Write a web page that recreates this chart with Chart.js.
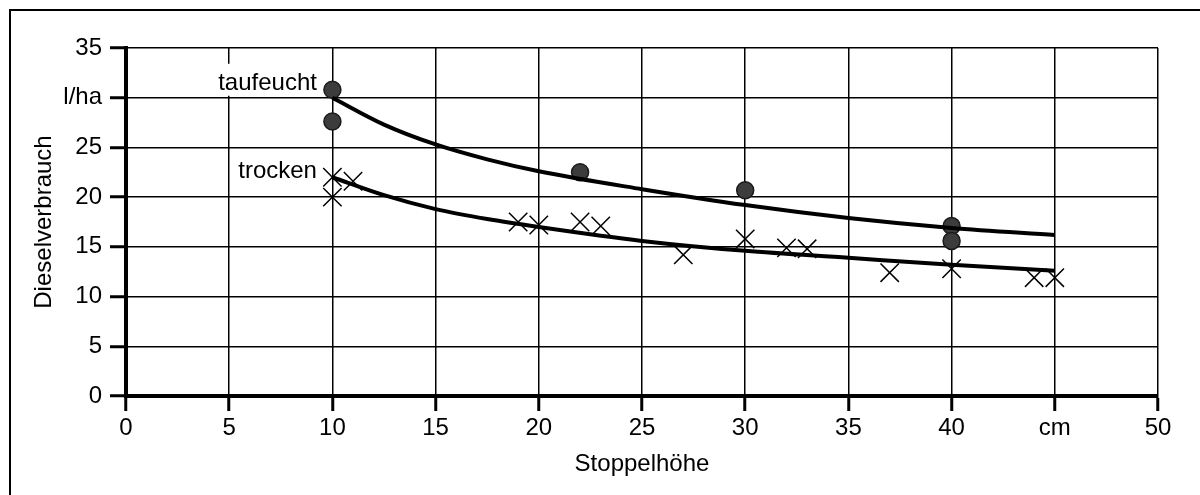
<!DOCTYPE html>
<html>
<head>
<meta charset="utf-8">
<title>Dieselverbrauch</title>
<script src="https://cdn.jsdelivr.net/npm/chart.js@4.4.1/dist/chart.umd.min.js"></script>
<style>
  html, body { margin: 0; padding: 0; background: #fff; }
  #wrap { position: relative; width: 1200px; height: 495px; overflow: hidden; }
  #frame { position: absolute; left: 9px; top: 9px; width: 1200px; height: 500px; border: 2px solid #000; pointer-events: none; }
</style>
</head>
<body>
<div id="wrap">
  <canvas id="myChart"></canvas>
  <div id="frame"></div>
</div>
<script>
// measured points, taufeucht (circles)
var taufeuchtX = [10, 10, 22, 30, 40, 40];
var taufeuchtY = [30.8, 27.6, 22.5, 20.7, 17.1, 15.6];

// measured points, trocken (crosses)
var trockenX = [10, 10, 11, 19, 20, 22, 23, 27, 30, 32, 33, 37, 40, 44, 45];
var trockenY = [22.0, 20.0, 21.6, 17.5, 17.2, 17.5, 17.1, 14.2, 15.8, 14.9, 14.8, 12.4, 12.8, 11.9, 11.9];

// trend curves
var trendX = [10, 12.5, 15, 17.5, 20, 25, 30, 35, 40, 45];
var taufeuchtTrend = [30.0, 27.3, 25.3, 23.8, 22.6, 20.8, 19.2, 17.9, 16.9, 16.2];
var trockenTrend = [22.0, 20.2, 18.8, 17.8, 17.0, 15.6, 14.6, 13.9, 13.2, 12.6];

// tick labels
var xTickLabels = ['0', '5', '10', '15', '20', '25', '30', '35', '40', 'cm', '50'];
var yTickLabels = ['0', '5', '10', '15', '20', '25', 'l/ha', '35'];

function toPoints(xs, ys) {
  return xs.map(function (x, i) { return { x: x, y: ys[i] }; });
}

Chart.defaults.font.family = '"Liberation Sans", Arial, sans-serif';
Chart.defaults.font.size = 24;
Chart.defaults.color = '#000';

// series labels with white box behind them
var seriesLabels = {
  id: 'seriesLabels',
  beforeDatasetsDraw: function (chart) {
    var ctx = chart.ctx;
    var xs = chart.scales.x, ys = chart.scales.y;
    var items = [
      { text: 'taufeucht', x: 9.25, y: 30.8 },
      { text: 'trocken', x: 9.25, y: 21.9 }
    ];
    ctx.save();
    ctx.font = '24px "Liberation Sans", Arial, sans-serif';
    ctx.textAlign = 'right';
    ctx.textBaseline = 'alphabetic';
    items.forEach(function (it) {
      var px = xs.getPixelForValue(it.x);
      var py = ys.getPixelForValue(it.y);
      var w = ctx.measureText(it.text).width;
      ctx.fillStyle = '#fff';
      ctx.fillRect(px - w - 8, py - 26, w + 10, 32);
      ctx.fillStyle = '#000';
      ctx.fillText(it.text, px, py);
    });
    ctx.restore();
  }
};

var chartCanvas = document.getElementById('myChart');

var myChart = new Chart(chartCanvas, {
  type: 'scatter',
  data: {
    datasets: [
      {
        type: 'line',
        label: 'taufeucht Trend',
        data: toPoints(trendX, taufeuchtTrend),
        borderColor: '#000',
        borderWidth: 4,
        pointRadius: 0,
        fill: false,
        cubicInterpolationMode: 'monotone'
      },
      {
        type: 'line',
        label: 'trocken Trend',
        data: toPoints(trendX, trockenTrend),
        borderColor: '#000',
        borderWidth: 4,
        pointRadius: 0,
        fill: false,
        cubicInterpolationMode: 'monotone'
      },
      {
        label: 'taufeucht',
        data: toPoints(taufeuchtX, taufeuchtY),
        pointStyle: 'circle',
        pointRadius: 8.5,
        backgroundColor: '#3c3c3c',
        borderColor: '#1a1a1a',
        borderWidth: 1.5
      },
      {
        label: 'trocken',
        data: toPoints(trockenX, trockenY),
        pointStyle: 'crossRot',
        pointRadius: 13,
        borderColor: '#000',
        borderWidth: 1.5
      }
    ]
  },
  options: {
    responsive: true,
    maintainAspectRatio: false,
    animation: false,
    layout: { padding: { top: 48, right: 42, left: 0, bottom: 0 } },
    plugins: {
      legend: { display: false },
      tooltip: { enabled: false }
    },
    scales: {
      x: {
        type: 'linear',
        min: 0,
        max: 50,
        afterFit: function (scale) { scale.height = 99; },
        ticks: {
          stepSize: 5,
          padding: 3,
          maxRotation: 0,
          autoSkip: false,
          callback: function (value, index) { return xTickLabels[index]; }
        },
        grid: {
          color: '#000',
          lineWidth: 1.5,
          tickLength: 15,
          tickWidth: 3,
          tickColor: '#000'
        },
        border: { display: true, color: '#000', width: 4 },
        title: {
          display: true,
          text: 'Stoppelhöhe',
          font: { size: 24 },
          padding: { top: 0, bottom: 16 }
        }
      },
      y: {
        type: 'linear',
        min: 0,
        max: 35,
        afterFit: function (scale) { scale.width = 126; },
        ticks: {
          stepSize: 5,
          padding: 8,
          autoSkip: false,
          callback: function (value, index) { return yTickLabels[index]; }
        },
        grid: {
          color: '#000',
          lineWidth: 1.5,
          tickLength: 16,
          tickWidth: 3,
          tickColor: '#000'
        },
        border: { display: true, color: '#000', width: 4 },
        title: {
          display: true,
          text: 'Dieselverbrauch',
          font: { size: 24 },
          padding: { top: 30, bottom: 0 }
        }
      }
    }
  },
  plugins: [seriesLabels]
});
</script>
</body>
</html>
